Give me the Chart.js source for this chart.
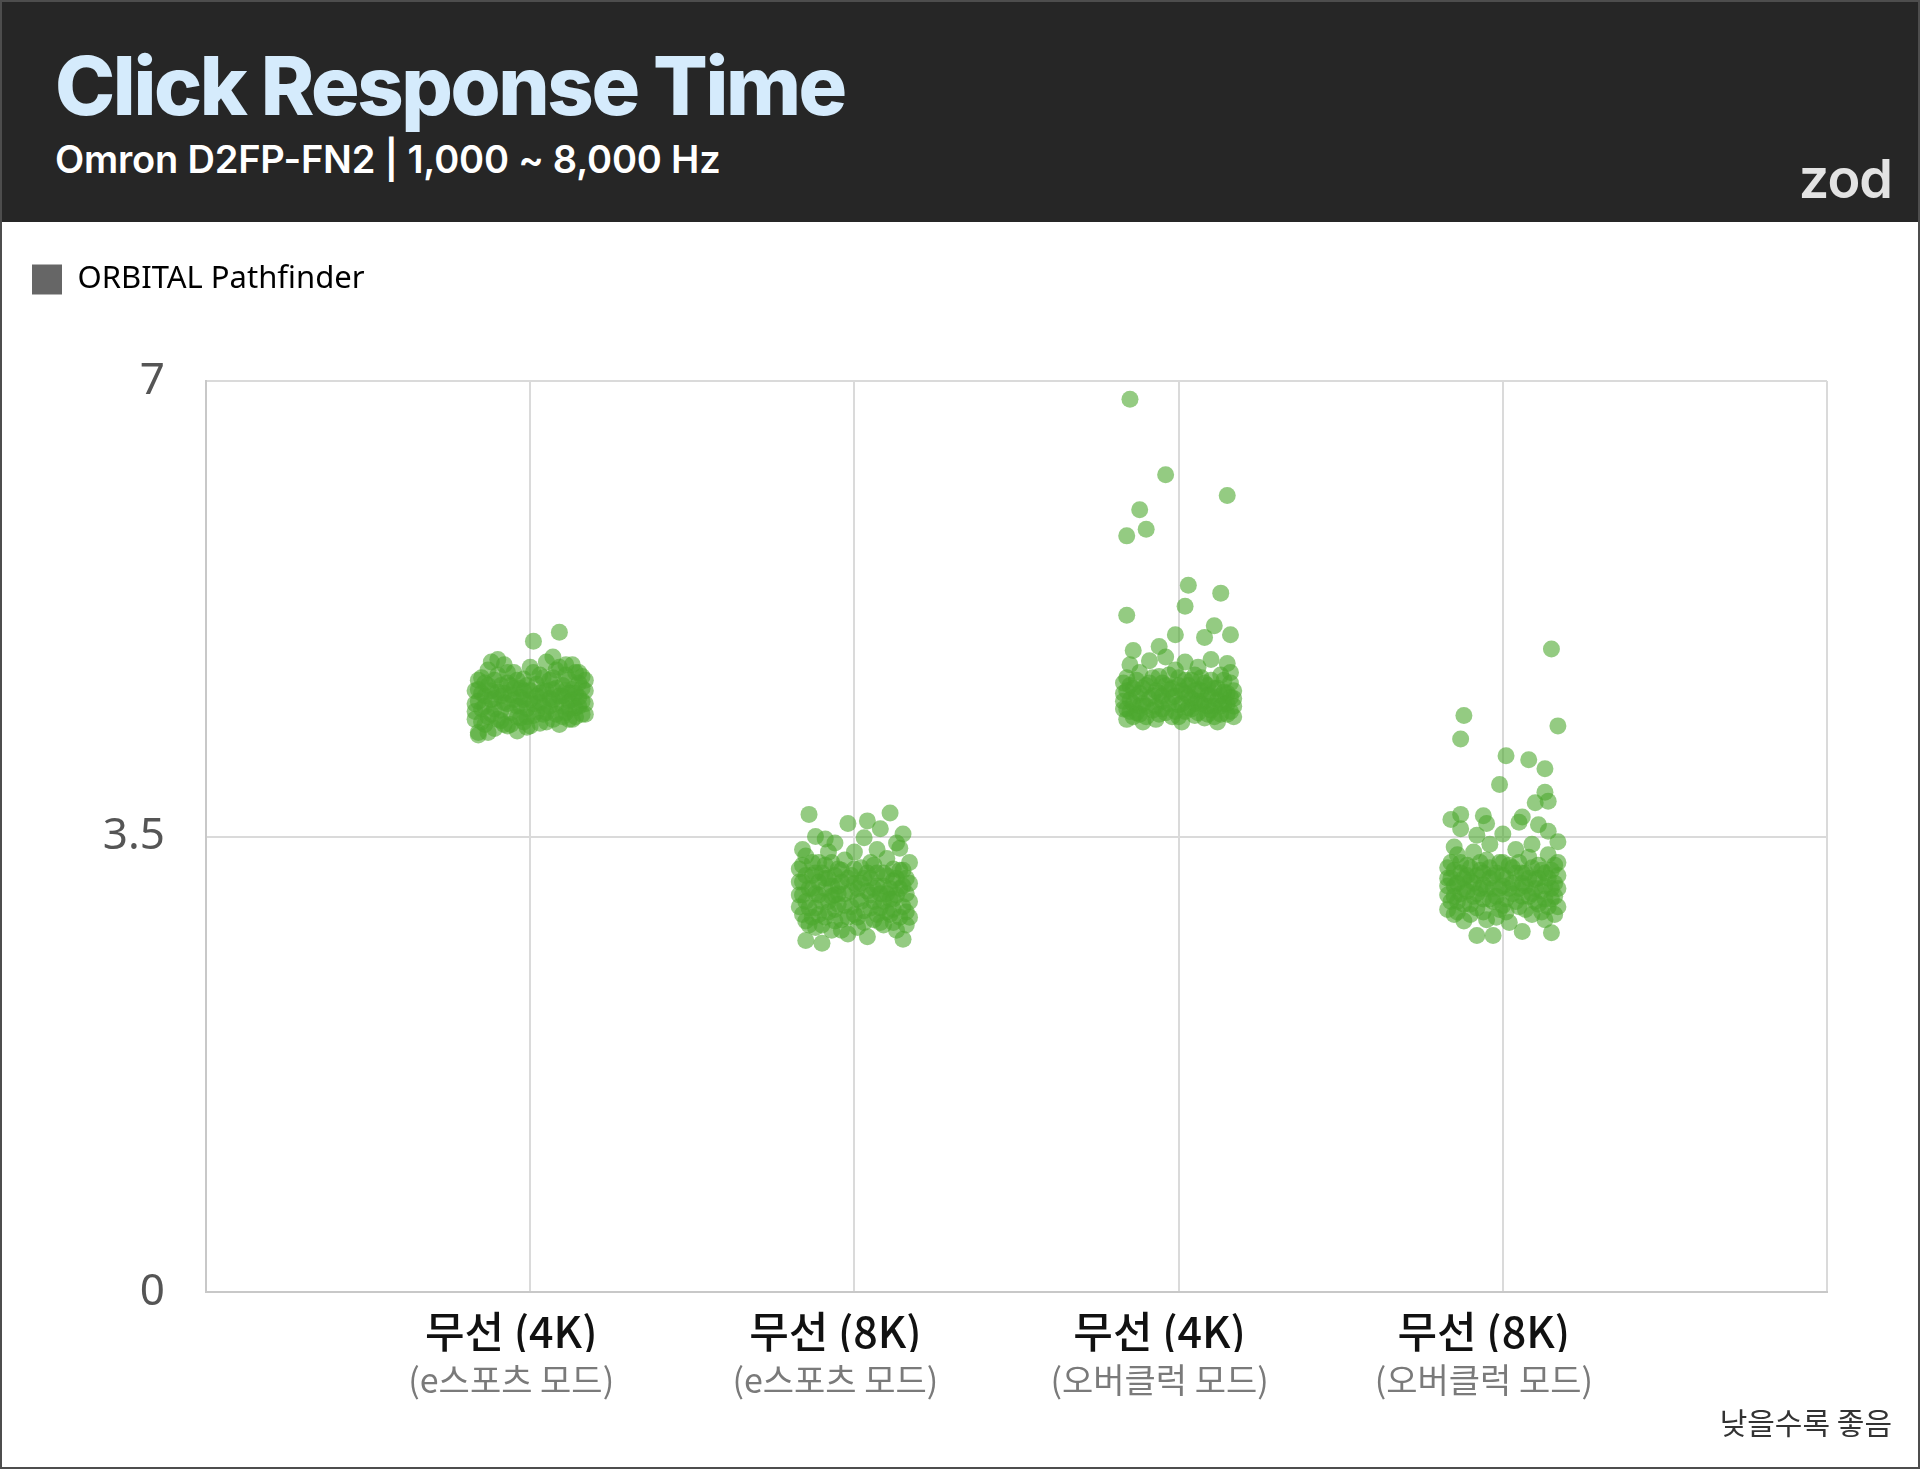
<!DOCTYPE html>
<html>
<head>
<meta charset="utf-8">
<script src="https://cdn.jsdelivr.net/npm/chart.js@4.4.1/dist/chart.umd.min.js"></script>
<style>
  html, body { margin: 0; padding: 0; background: #fff; }
  #frame { position: relative; width: 1920px; height: 1469px; box-sizing: border-box; border: 2px solid #4d4d4d; overflow: hidden; background: #fff; }
  #header { position: absolute; left: 0; top: 0; width: 1916px; height: 220px; background: #262626; }
  #title { position: absolute; left: 53px; top: 44px; font: 800 81px/81px Inter, sans-serif; letter-spacing: -2.4px; color: #d5ebfc; white-space: nowrap; }
  #subtitle { position: absolute; left: 53px; top: 138px; font: 600 38px/38px Inter, sans-serif; letter-spacing: -0.2px; color: #fff; white-space: nowrap; }
  #brand { position: absolute; right: 26px; top: 150px; font: 600 54px/54px Inter, sans-serif; letter-spacing: -1px; color: #e3e3e3; }
  #plot { position: absolute; left: 0; top: 220px; width: 1916px; height: 1245px; }
  #note { position: absolute; right: 26px; top: 1403px; font: 400 30px/32px "Noto Sans CJK KR", sans-serif; color: #333; }
</style>
</head>
<body>
<div id="frame">
  <div id="header">
    <div id="title">Click Response Time</div>
    <div id="subtitle">Omron D2FP-FN2 | 1,000 ~ 8,000 Hz</div>
    <div id="brand">zod</div>
  </div>
  <div id="plot"><canvas id="rtChart"></canvas></div>
  <div id="note">낮을수록 좋음</div>
</div>
<script>
// categories (x = 1..4) and tick labels
const categories = ['무선 (4K)', '무선 (8K)', '무선 (4K)', '무선 (8K)'];
const modes = ['(e스포츠 모드)', '(e스포츠 모드)', '(오버클럭 모드)', '(오버클럭 모드)'];
const yTicks = [0, 3.5, 7];
const xTicks = [0, 1, 2, 3, 4, 5];
const seriesName = 'ORBITAL Pathfinder';

// [horizontal jitter, response time ms]
const esports4k = [
  [-0.17,4.52],[-0.17,4.40],[-0.16,4.63],[-0.16,4.30],[-0.15,4.72],[-0.15,4.48],[-0.14,4.58],[-0.14,4.36],
  [-0.13,4.78],[-0.13,4.66],[-0.12,4.44],[-0.12,4.55],[-0.11,4.33],[-0.11,4.70],[-0.10,4.61],[-0.10,4.86],
  [-0.09,4.47],[-0.09,4.39],[-0.08,4.82],[-0.08,4.53],[-0.07,4.68],[-0.07,4.35],[-0.06,4.59],[-0.06,4.45],
  [-0.05,4.76],[-0.05,4.64],[-0.04,4.50],[-0.04,4.31],[-0.03,4.57],[-0.03,4.41],[-0.02,4.71],[-0.02,4.62],
  [-0.01,4.48],[-0.01,4.34],[0.00,4.55],[0.00,4.80],[0.01,5.00],[0.01,4.43],[0.02,4.67],[0.02,4.58],
  [0.03,4.74],[0.03,4.37],[0.04,4.50],[0.04,4.62],[0.05,4.84],[0.05,4.45],[0.06,4.56],[0.06,4.70],
  [0.07,4.40],[0.07,4.63],[0.08,4.78],[0.08,4.52],[0.09,5.07],[0.09,4.36],[0.10,4.66],[0.10,4.58],
  [0.11,4.82],[0.11,4.45],[0.12,4.70],[0.12,4.54],[0.13,4.40],[0.13,4.63],[0.14,4.76],[0.14,4.49],
  [0.15,4.68],[0.15,4.57],[0.16,4.44],[0.16,4.73],[0.17,4.62],[0.17,4.52],[-0.15,4.60],[-0.09,4.58],
  [-0.02,4.38],[0.04,4.44],[0.12,4.48],[-0.12,4.84],[0.07,4.88],[-0.16,4.28],
  [-0.17,4.62],[-0.17,4.46],[-0.16,4.54],[-0.16,4.70],[-0.15,4.38],[-0.14,4.68],[-0.14,4.50],[-0.13,4.42],
  [-0.13,4.30],[-0.12,4.62],[-0.11,4.56],[-0.11,4.48],[-0.10,4.40],[-0.10,4.74],[-0.09,4.66],[-0.08,4.36],
  [-0.08,4.60],[-0.07,4.52],[-0.07,4.76],[-0.06,4.66],[-0.06,4.36],[-0.05,4.55],[-0.04,4.42],[-0.04,4.70],
  [-0.03,4.64],[-0.03,4.50],[-0.02,4.55],[-0.01,4.66],[-0.01,4.42],[0.00,4.62],[0.00,4.35],[0.01,4.52],
  [0.01,4.76],[0.02,4.46],[0.03,4.60],[0.03,4.53],[0.04,4.72],[0.05,4.62],[0.05,4.38],[0.06,4.50],
  [0.07,4.55],[0.07,4.72],[0.08,4.44],[0.08,4.64],[0.09,4.58],[0.09,4.80],[0.10,4.50],[0.10,4.42],
  [0.11,4.62],[0.11,4.74],[0.12,4.60],[0.12,4.40],[0.13,4.55],[0.13,4.82],[0.14,4.60],[0.14,4.42],
  [0.15,4.50],[0.15,4.76],[0.16,4.64],[0.16,4.54],[0.17,4.70],[0.17,4.44]
];
const esports8k = [
  [-0.17,3.05],[-0.17,3.25],[-0.16,2.90],[-0.16,3.15],[-0.15,2.70],[-0.15,3.35],[-0.15,3.00],[-0.14,3.67],
  [-0.14,2.82],[-0.13,3.20],[-0.13,3.10],[-0.12,3.50],[-0.12,2.95],[-0.12,2.80],[-0.11,3.30],[-0.11,3.05],
  [-0.10,2.68],[-0.10,3.22],[-0.09,3.18],[-0.09,2.88],[-0.08,3.38],[-0.08,3.00],[-0.07,3.12],[-0.07,2.78],
  [-0.06,3.45],[-0.06,2.94],[-0.05,3.25],[-0.05,3.06],[-0.04,2.86],[-0.04,3.15],[-0.03,3.32],[-0.03,2.97],
  [-0.02,3.60],[-0.02,2.75],[-0.01,3.08],[-0.01,3.20],[0.00,2.90],[0.00,3.38],[0.01,3.02],[0.01,2.80],
  [0.02,3.14],[0.02,3.26],[0.03,3.49],[0.03,2.93],[0.04,3.08],[0.04,2.73],[0.05,3.30],[0.05,3.18],
  [0.06,2.86],[0.06,3.00],[0.07,3.40],[0.07,3.12],[0.08,3.56],[0.08,2.95],[0.09,3.22],[0.09,2.82],
  [0.10,3.06],[0.10,3.33],[0.11,3.68],[0.11,2.90],[0.12,3.16],[0.12,3.02],[0.13,3.45],[0.13,2.78],
  [0.14,3.41],[0.14,3.10],[0.15,2.71],[0.15,3.24],[0.16,3.06],[0.16,2.92],[0.17,3.14],[0.17,3.30],
  [0.15,3.52],[-0.09,3.48],[0.04,3.62],[-0.16,3.40],[0.12,2.84],[-0.06,3.05],
  [-0.17,3.15],[-0.17,2.96],[-0.16,3.05],[-0.16,3.28],[-0.15,3.20],[-0.15,2.85],[-0.14,3.10],[-0.14,2.95],
  [-0.13,3.30],[-0.13,2.88],[-0.12,3.06],[-0.12,3.22],[-0.11,2.90],[-0.11,3.15],[-0.10,3.00],[-0.10,2.82],
  [-0.09,3.10],[-0.09,3.28],[-0.08,2.92],[-0.08,3.18],[-0.07,3.04],[-0.07,3.30],[-0.06,2.85],[-0.06,3.20],
  [-0.05,2.98],[-0.05,3.12],[-0.04,3.24],[-0.04,2.78],[-0.03,3.06],[-0.02,2.88],[-0.02,3.18],[-0.01,2.96],
  [0.00,3.14],[0.00,3.25],[0.01,2.88],[0.01,3.10],[0.02,3.00],[0.03,3.18],[0.03,2.84],[0.04,3.22],
  [0.05,2.95],[0.05,3.05],[0.06,3.10],[0.06,3.28],[0.07,2.90],[0.07,3.22],[0.08,3.06],[0.08,2.84],
  [0.09,3.12],[0.09,3.00],[0.10,3.20],[0.10,2.92],[0.11,3.10],[0.11,3.02],[0.12,3.25],[0.12,2.94],
  [0.13,3.05],[0.13,3.18],[0.14,2.88],[0.14,3.24],[0.15,3.12],[0.15,2.96],[0.16,3.18],[0.16,2.82],
  [0.17,3.00],[0.17,2.88]
];
const overclock4k = [
  [-0.15,6.86],[-0.04,6.28],[0.15,6.12],[-0.12,6.01],[-0.10,5.86],[-0.16,5.81],[0.03,5.43],[0.13,5.37],
  [0.02,5.27],[-0.16,5.20],[0.11,5.12],[-0.01,5.05],[0.08,5.03],[0.16,5.05],[-0.14,4.93],[-0.06,4.96],
  [-0.17,4.60],[-0.17,4.48],[-0.16,4.72],[-0.16,4.40],[-0.15,4.55],[-0.15,4.82],[-0.14,4.64],[-0.13,4.45],
  [-0.13,4.58],[-0.12,4.76],[-0.11,4.52],[-0.11,4.38],[-0.10,4.66],[-0.09,4.56],[-0.09,4.85],[-0.08,4.47],
  [-0.07,4.62],[-0.07,4.40],[-0.06,4.73],[-0.05,4.54],[-0.04,4.88],[-0.04,4.45],[-0.03,4.63],[-0.02,4.57],
  [-0.02,4.42],[-0.01,4.78],[0.00,4.51],[0.00,4.66],[0.01,4.38],[0.02,4.60],[0.02,4.84],[0.03,4.49],
  [0.04,4.70],[0.04,4.56],[0.05,4.43],[0.06,4.63],[0.06,4.80],[0.07,4.52],[0.08,4.41],[0.08,4.68],
  [0.09,4.59],[0.10,4.86],[0.10,4.47],[0.11,4.64],[0.12,4.55],[0.12,4.38],[0.13,4.74],[0.13,4.50],
  [0.14,4.61],[0.15,4.44],[0.15,4.83],[0.16,4.57],[0.16,4.68],[0.17,4.50],[0.17,4.62],[-0.12,4.50],
  [0.05,4.52],[-0.05,4.68],[0.09,4.50],[-0.15,4.46],
  [-0.17,4.54],[-0.17,4.68],[-0.16,4.48],[-0.16,4.62],[-0.15,4.66],[-0.14,4.52],[-0.14,4.42],[-0.13,4.70],
  [-0.12,4.60],[-0.12,4.44],[-0.11,4.64],[-0.10,4.50],[-0.10,4.42],[-0.09,4.68],[-0.08,4.58],[-0.08,4.72],
  [-0.07,4.50],[-0.06,4.60],[-0.06,4.44],[-0.05,4.58],[-0.05,4.48],[-0.04,4.66],[-0.03,4.52],[-0.03,4.74],
  [-0.02,4.64],[-0.01,4.46],[-0.01,4.58],[0.00,4.42],[0.00,4.72],[0.01,4.62],[0.01,4.52],[0.02,4.46],
  [0.02,4.70],[0.03,4.58],[0.03,4.66],[0.04,4.48],[0.05,4.62],[0.05,4.74],[0.06,4.54],[0.06,4.45],
  [0.07,4.62],[0.07,4.72],[0.08,4.54],[0.09,4.44],[0.09,4.66],[0.10,4.58],[0.10,4.70],[0.11,4.50],
  [0.11,4.42],[0.12,4.64],[0.13,4.58],[0.13,4.44],[0.14,4.52],[0.14,4.70],[0.15,4.60],[0.15,4.52],
  [0.16,4.46],[0.16,4.76],[0.17,4.56],[0.17,4.42]
];
const overclock8k = [
  [0.15,4.94],[-0.12,4.43],[-0.13,4.25],[0.17,4.35],[0.01,4.12],[0.08,4.09],[0.13,4.02],[-0.01,3.90],
  [0.13,3.84],[0.14,3.77],[0.10,3.76],[-0.13,3.67],[-0.16,3.63],[-0.06,3.66],[0.06,3.65],[-0.13,3.56],
  [-0.05,3.60],[0.05,3.61],[0.11,3.59],[0.14,3.54],[-0.08,3.51],[0.00,3.52],[0.17,3.46],[-0.15,3.42],
  [-0.17,3.18],[-0.17,3.05],[-0.16,3.30],[-0.17,2.94],[-0.15,3.12],[-0.14,3.36],[-0.14,3.00],[-0.13,3.22],
  [-0.12,2.85],[-0.12,3.10],[-0.11,3.28],[-0.10,2.98],[-0.10,3.16],[-0.09,3.38],[-0.08,2.74],[-0.08,3.06],
  [-0.07,3.24],[-0.06,2.92],[-0.06,3.13],[-0.05,3.32],[-0.04,3.02],[-0.03,2.74],[-0.03,3.20],[-0.02,2.88],
  [-0.01,3.10],[0.00,3.30],[0.00,2.97],[0.01,3.18],[0.02,2.84],[0.03,3.06],[0.03,3.26],[0.04,3.40],
  [0.05,2.96],[0.06,3.14],[0.06,2.77],[0.07,3.22],[0.08,3.04],[0.08,3.34],[0.09,2.90],[0.10,3.17],
  [0.11,3.28],[0.11,2.98],[0.12,3.08],[0.13,2.86],[0.13,3.22],[0.14,3.36],[0.15,2.76],[0.15,3.02],
  [0.16,3.14],[0.16,3.28],[0.17,3.20],[0.17,2.96],[-0.04,3.44],[0.09,3.44],[-0.15,2.90],
  [-0.17,3.12],[-0.17,3.26],[-0.16,3.00],[-0.16,3.18],[-0.15,3.24],[-0.15,3.04],[-0.14,3.14],[-0.14,2.92],
  [-0.13,3.06],[-0.13,3.30],[-0.12,3.18],[-0.12,2.98],[-0.11,3.08],[-0.11,3.20],[-0.10,3.26],[-0.10,2.90],
  [-0.09,3.04],[-0.09,3.14],[-0.08,3.20],[-0.08,2.95],[-0.07,3.10],[-0.07,3.30],[-0.06,3.02],[-0.06,3.22],
  [-0.05,3.10],[-0.05,2.86],[-0.04,3.18],[-0.04,3.26],[-0.03,3.00],[-0.03,3.10],[-0.02,3.22],[-0.02,3.04],
  [-0.01,2.94],[-0.01,3.30],[0.00,3.12],[0.00,3.20],[0.01,3.02],[0.01,2.92],[0.02,3.10],[0.02,3.28],
  [0.03,3.14],[0.04,3.00],[0.04,3.22],[0.05,3.10],[0.05,3.30],[0.06,3.04],[0.06,3.22],[0.07,2.94],
  [0.07,3.12],[0.08,3.18],[0.09,3.06],[0.09,3.26],[0.10,3.00],[0.10,3.10],[0.11,3.18],[0.12,3.24],
  [0.12,2.92],[0.13,3.12],[0.13,3.02],[0.14,3.18],[0.14,2.96],[0.15,3.24],[0.15,3.10],[0.16,3.04],
  [0.16,2.90],[0.17,3.10],[0.17,3.30]
];

const groups = [esports4k, esports8k, overclock4k, overclock8k];
const points = [];
groups.forEach((g, i) => {
  g.forEach(p => points.push({ x: i + 1 + p[0], y: p[1] }));
});

const gridColor = '#dadada';

// push the plot down below the legend
const legendGap = {
  id: 'legendGap',
  beforeInit(chart) {
    const fit = chart.legend.fit;
    chart.legend.fit = function () {
      fit.bind(chart.legend)();
      this.height = 147;
    };
  }
};

const ctx = document.getElementById('rtChart').getContext('2d');
const chart = new Chart(ctx, {
  type: 'scatter',
  data: {
    datasets: [{
      label: seriesName,
      data: points,
      backgroundColor: 'rgba(77,168,46,0.6)',
      borderWidth: 0,
      pointRadius: 8.5,
      pointHoverRadius: 8.5
    }]
  },
  options: {
    responsive: true,
    maintainAspectRatio: false,
    animation: false,
    events: [],
    layout: { padding: { top: 12, right: 91, left: 0, bottom: 0 } },
    plugins: {
      tooltip: { enabled: false },
      legend: {
        position: 'top',
        align: 'start',
        labels: {
          boxWidth: 30,
          boxHeight: 30,
          padding: 30,
          color: '#333',
          font: { family: 'Noto Sans', size: 31 },
          generateLabels: (c) => [{
            text: seriesName, fillStyle: '#666666', strokeStyle: '#666666', lineWidth: 0, datasetIndex: 0
          }]
        }
      }
    },
    scales: {
      x: {
        type: 'linear', min: 0, max: 5, position: 'bottom', weight: 0,
        afterBuildTicks: (s) => { s.ticks = xTicks.map(v => ({ value: v })); },
        afterFit: (s) => { s.height = 60; },
        ticks: {
          labelOffset: -19, padding: 14, maxRotation: 0, autoSkip: false,
          color: '#111',
          font: { family: 'Noto Sans CJK KR', size: 43, weight: '500' },
          callback: (v) => (v >= 1 && v <= 4 ? categories[v - 1] : '')
        },
        grid: { color: gridColor, lineWidth: 2, drawTicks: false },
        border: { color: '#c8c8c8', width: 2 }
      },
      x2: {
        type: 'linear', min: 0, max: 5, position: 'bottom', weight: 1,
        afterBuildTicks: (s) => { s.ticks = xTicks.map(v => ({ value: v })); },
        afterFit: (s) => { s.height = 115; },
        ticks: {
          labelOffset: -19, padding: 8, maxRotation: 0, autoSkip: false,
          color: '#7a7a7a',
          font: { family: 'Noto Sans CJK KR', size: 34 },
          callback: (v) => (v >= 1 && v <= 4 ? modes[v - 1] : '')
        },
        grid: { display: false, drawTicks: false },
        border: { display: false }
      },
      y: {
        min: 0, max: 7,
        afterBuildTicks: (s) => { s.ticks = yTicks.map(v => ({ value: v })); },
        afterFit: (s) => { s.width = 204; },
        ticks: {
          padding: 41,
          color: '#555',
          font: { family: 'Noto Sans', size: 44 },
          callback: (v) => String(v)
        },
        grid: { color: gridColor, lineWidth: 2, drawTicks: false },
        border: { color: '#c8c8c8', width: 2 }
      }
    }
  },
  plugins: [legendGap]
});
</script>
</body>
</html>
